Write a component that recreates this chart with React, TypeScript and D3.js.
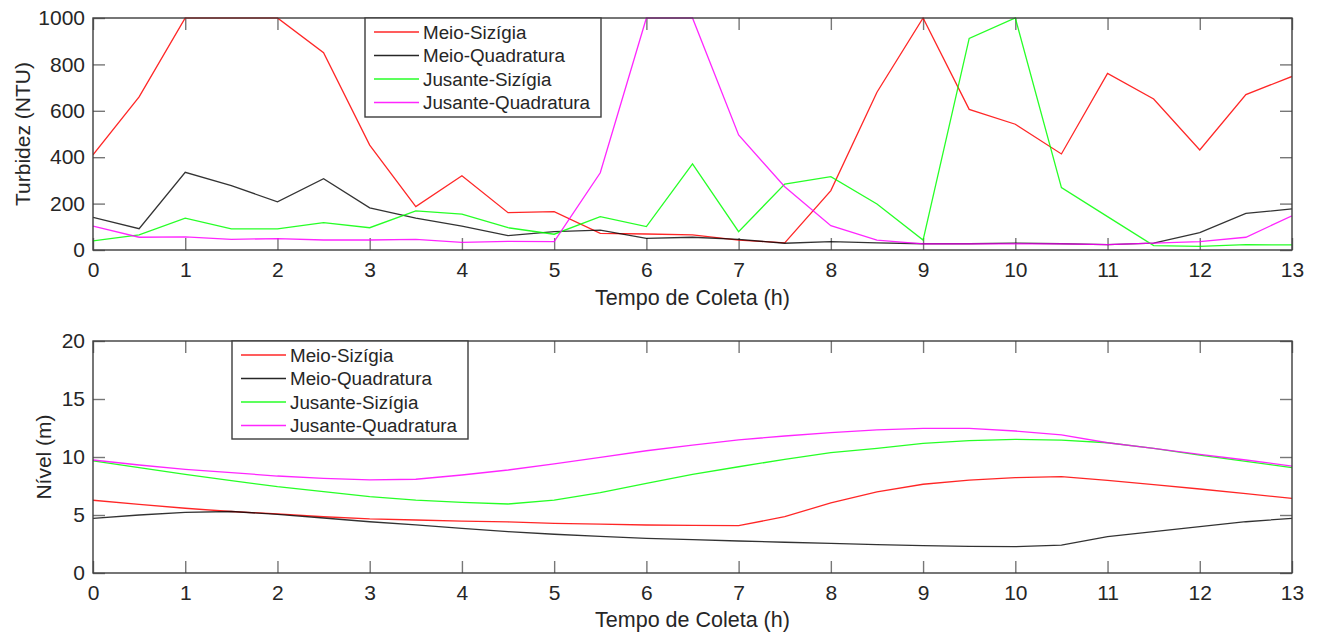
import React, { useEffect, useRef } from 'react';
import * as d3 from 'd3';

// sampling times (h)
const hours = [0, 0.5, 1, 1.5, 2, 2.5, 3, 3.5, 4, 4.5, 5, 5.5, 6, 6.5, 7, 7.5, 8, 8.5, 9, 9.5, 10, 10.5, 11, 11.5, 12, 12.5, 13];
const xTicks = [0, 1, 2, 3, 4, 5, 6, 7, 8, 9, 10, 11, 12, 13];

const seriesNames = ['Meio-Sizígia', 'Meio-Quadratura', 'Jusante-Sizígia', 'Jusante-Quadratura'];
const seriesColors = ['#ff0000', '#000000', '#00ff00', '#ff00ff'];

// Turbidez (NTU)
const meioSizigiaTurb = [410, 660, 1000, 1000, 1000, 850, 452, 187, 320, 161, 165, 72, 69, 65, 43, 31, 256, 680, 1000, 606, 542, 414, 761, 651, 431, 670, 748];
const meioQuadTurb = [141, 92, 335, 277, 208, 307, 182, 137, 103, 62, 79, 86, 50, 55, 46, 29, 36, 31, 27, 27, 30, 27, 23, 30, 75, 158, 177];
const jusanteSizigiaTurb = [39, 65, 137, 91, 91, 118, 96, 169, 155, 96, 68, 144, 101, 371, 79, 284, 316, 198, 43, 912, 1000, 269, 144, 19, 16, 23, 22];
const jusanteQuadTurb = [103, 55, 57, 46, 49, 43, 43, 46, 33, 37, 36, 333, 1000, 1000, 496, 273, 105, 43, 26, 26, 26, 26, 23, 30, 36, 55, 147];
const turbTicks = [0, 200, 400, 600, 800, 1000];

// Nivel (m)
const meioSizigiaNivel = [6.27, 5.92, 5.58, 5.3, 5.09, 4.85, 4.66, 4.57, 4.48, 4.4, 4.28, 4.22, 4.14, 4.1, 4.08, 4.85, 6.05, 7.0, 7.65, 8.0, 8.22, 8.3, 7.99, 7.61, 7.24, 6.84, 6.44];
const meioQuadNivel = [4.71, 5.0, 5.23, 5.3, 5.06, 4.74, 4.42, 4.14, 3.85, 3.56, 3.34, 3.16, 2.99, 2.87, 2.76, 2.65, 2.56, 2.45, 2.36, 2.3, 2.27, 2.41, 3.13, 3.56, 3.99, 4.42, 4.71];
const jusanteSizigiaNivel = [9.66, 9.08, 8.5, 7.96, 7.44, 7.01, 6.58, 6.29, 6.09, 5.95, 6.29, 6.92, 7.73, 8.51, 9.16, 9.8, 10.37, 10.75, 11.18, 11.41, 11.52, 11.46, 11.23, 10.75, 10.17, 9.63, 9.08];
const jusanteQuadNivel = [9.74, 9.31, 8.94, 8.65, 8.36, 8.16, 8.02, 8.08, 8.45, 8.88, 9.4, 9.97, 10.54, 11.03, 11.47, 11.81, 12.1, 12.33, 12.47, 12.47, 12.24, 11.9, 11.23, 10.75, 10.23, 9.74, 9.22];
const nivelTicks = [0, 5, 10, 15, 20];

const FONT = 'Arial, "Liberation Sans", sans-serif';
const BOX_COLOR = '#3d3d3d';
const TICK_COLOR = '#777777';
const TEXT_COLOR = '#262626';

type Panel = {
  id: string;
  top: number;
  bottom: number;
  yMax: number;
  yTicks: number[];
  yLabel: string;
  yLabelX: number;
  xLabelY: number;
  series: number[][];
  legend: { x: number; y: number; w: number; h: number };
};

const panels: Panel[] = [
  {
    id: 'turb', top: 18, bottom: 250, yMax: 1000, yTicks: turbTicks, yLabel: 'Turbidez (NTU)', yLabelX: 30, xLabelY: 305,
    series: [meioSizigiaTurb, meioQuadTurb, jusanteSizigiaTurb, jusanteQuadTurb],
    legend: { x: 365, y: 18, w: 236, h: 99 },
  },
  {
    id: 'nivel', top: 341, bottom: 573, yMax: 20, yTicks: nivelTicks, yLabel: 'Nível (m)', yLabelX: 51, xLabelY: 627,
    series: [meioSizigiaNivel, meioQuadNivel, jusanteSizigiaNivel, jusanteQuadNivel],
    legend: { x: 232, y: 341, w: 236, h: 98 },
  },
];

const LEFT = 93;
const RIGHT = 1292;

const App = () => {
  const svgRef = useRef<SVGSVGElement>(null);

  useEffect(() => {
    if (!svgRef.current) return;
    const svg = d3.select(svgRef.current);
    svg.selectAll('*').remove();

    const x = d3.scaleLinear().domain([0, 13]).range([LEFT, RIGHT]);

    panels.forEach(p => {
      const y = d3.scaleLinear().domain([0, p.yMax]).range([p.bottom, p.top]);
      const g = svg.append('g');

      // clip to plot area
      g.append('clipPath').attr('id', `clip-${p.id}`)
        .append('rect')
        .attr('x', LEFT).attr('y', p.top - 1)
        .attr('width', RIGHT - LEFT).attr('height', p.bottom - p.top + 2);

      const line = d3.line<number>()
        .x((_, i) => x(hours[i]))
        .y(d => y(d));

      const styleAxis = (a: d3.Selection<SVGGElement, unknown, null, undefined>) => {
        a.select('.domain').remove();
        a.selectAll('.tick line').attr('stroke', TICK_COLOR).attr('stroke-width', 1.4);
        a.selectAll('text').attr('fill', TEXT_COLOR).style('font-family', FONT).style('font-size', '21px');
      };

      // bottom axis with labels, inward ticks
      g.append('g')
        .attr('transform', `translate(0,${p.bottom})`)
        .call(d3.axisBottom(x).tickValues(xTicks).tickSizeInner(-12).tickSizeOuter(0).tickPadding(12).tickFormat(d3.format('d')))
        .call(styleAxis);
      // top axis ticks
      g.append('g')
        .attr('transform', `translate(0,${p.top})`)
        .call(d3.axisTop(x).tickValues(xTicks).tickSizeInner(-12).tickSizeOuter(0).tickFormat(() => ''))
        .call(styleAxis);
      // left axis
      g.append('g')
        .attr('transform', `translate(${LEFT},0)`)
        .call(d3.axisLeft(y).tickValues(p.yTicks).tickSizeInner(-12).tickSizeOuter(0).tickPadding(8).tickFormat(d3.format('d')))
        .call(styleAxis);
      // right axis ticks
      g.append('g')
        .attr('transform', `translate(${RIGHT},0)`)
        .call(d3.axisRight(y).tickValues(p.yTicks).tickSizeInner(-12).tickSizeOuter(0).tickFormat(() => ''))
        .call(styleAxis);

      p.series.forEach((vals, i) => {
        g.append('path')
          .attr('clip-path', `url(#clip-${p.id})`)
          .attr('fill', 'none')
          .attr('stroke', seriesColors[i])
          .attr('stroke-opacity', i === 1 ? 0.8 : 0.85)
          .attr('stroke-width', 1.3)
          .attr('d', line(vals));
      });

      // box
      g.append('rect')
        .attr('x', LEFT).attr('y', p.top)
        .attr('width', RIGHT - LEFT).attr('height', p.bottom - p.top)
        .attr('fill', 'none').attr('stroke', BOX_COLOR).attr('stroke-width', 1.4);

      // axis labels
      g.append('text')
        .attr('x', (LEFT + RIGHT) / 2).attr('y', p.xLabelY)
        .attr('text-anchor', 'middle')
        .attr('fill', TEXT_COLOR)
        .style('font-family', FONT).style('font-size', '21.5px')
        .text('Tempo de Coleta (h)');

      g.append('text')
        .attr('transform', `translate(${p.yLabelX},${(p.top + p.bottom) / 2}) rotate(-90)`)
        .attr('text-anchor', 'middle')
        .attr('fill', TEXT_COLOR)
        .style('font-family', FONT).style('font-size', '21px')
        .text(p.yLabel);

      // legend
      const lg = g.append('g').attr('transform', `translate(${p.legend.x},${p.legend.y})`);
      lg.append('rect')
        .attr('width', p.legend.w).attr('height', p.legend.h)
        .attr('fill', '#ffffff').attr('stroke', BOX_COLOR).attr('stroke-width', 1.4);
      seriesNames.forEach((name, i) => {
        const ry = 14 + i * 23.5;
        lg.append('line')
          .attr('x1', 9).attr('x2', 54).attr('y1', ry).attr('y2', ry)
          .attr('stroke', seriesColors[i]).attr('stroke-opacity', 0.85).attr('stroke-width', 1.3);
        lg.append('text')
          .attr('x', 58).attr('y', ry).attr('dy', '0.35em')
          .attr('fill', TEXT_COLOR)
          .style('font-family', FONT).style('font-size', '18.8px')
          .text(name);
      });
    });
  }, []);

  return (
    <svg ref={svgRef} width={1320} height={634} style={{ position: 'absolute', left: 0, top: 0, background: '#ffffff' }} />
  );
};

export default App;
